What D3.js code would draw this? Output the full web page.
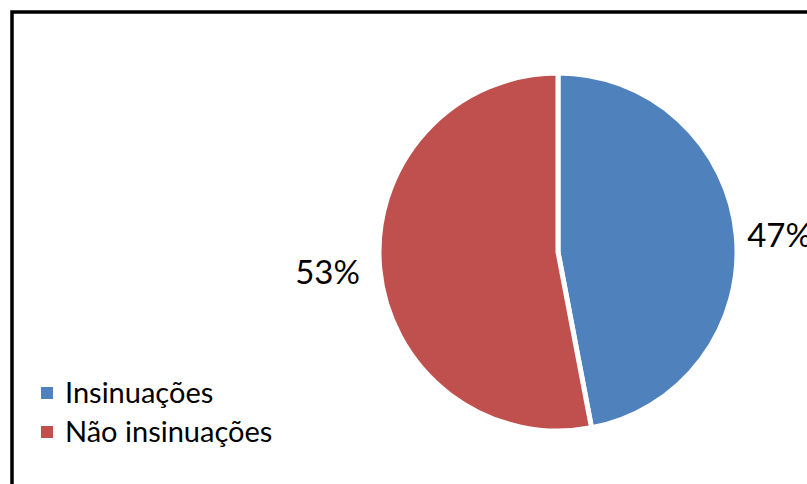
<!DOCTYPE html>
<html>
<head>
<meta charset="utf-8">
<script src="https://cdn.jsdelivr.net/npm/d3@7"></script>
<style>
  body { margin: 0; background: #fff; }
  text { font-family: Lato, "Open Sans", sans-serif; fill: #000; }
</style>
</head>
<body>
<div id="chart"></div>
<script>
const categories = ["Insinuações", "Não insinuações"];
const values = [47, 53];
const colors = ["#4F81BD", "#C0504D"];

const width = 807, height = 484;
const cx = 558, cy = 252, radius = 179;

const svg = d3.select("#chart")
    .append("svg")
    .attr("width", width)
    .attr("height", height);

// chart frame (right and bottom edges run off the picture)
svg.append("rect")
    .attr("x", 12)
    .attr("y", 12)
    .attr("width", 820)
    .attr("height", 500)
    .attr("fill", "none")
    .attr("stroke", "#000")
    .attr("stroke-width", 3.5);

const total = d3.sum(values);
const pie = d3.pie().sort(null).value(d => d.value);
const data = pie(categories.map((c, i) => ({ name: c, value: values[i], color: colors[i] })));

const arc = d3.arc().innerRadius(0).outerRadius(radius);

const g = svg.append("g")
    .attr("transform", `translate(${cx},${cy})`);

g.selectAll("path")
    .data(data)
    .join("path")
    .attr("d", arc)
    .attr("fill", d => d.data.color)
    .attr("stroke", "#fff")
    .attr("stroke-width", 5);

// outside-end labels
g.selectAll("text.pct")
    .data(data)
    .join("text")
    .attr("class", "pct")
    .each(function(d) {
        const a = (d.startAngle + d.endAngle) / 2;
        const right = Math.sin(a) > 0;
        const r = right ? radius + 11 : radius + 20;
        d3.select(this)
            .attr("x", Math.sin(a) * r)
            .attr("y", -Math.cos(a) * r)
            .attr("text-anchor", right ? "start" : "end");
    })
    .attr("dominant-baseline", "central")
    .attr("font-size", 33)
    .text(d => Math.round(d.data.value / total * 100) + "%");

// legend
const legend = svg.append("g")
    .attr("transform", "translate(41,393)");

const item = legend.selectAll("g")
    .data(data)
    .join("g")
    .attr("transform", (d, i) => `translate(0,${i * 39})`);

item.append("rect")
    .attr("x", 0)
    .attr("y", -6)
    .attr("width", 12)
    .attr("height", 12)
    .attr("fill", d => d.data.color);

item.append("text")
    .attr("x", 24)
    .attr("y", 10)
    .attr("font-size", 29)
    .text(d => d.data.name);
</script>
</body>
</html>
